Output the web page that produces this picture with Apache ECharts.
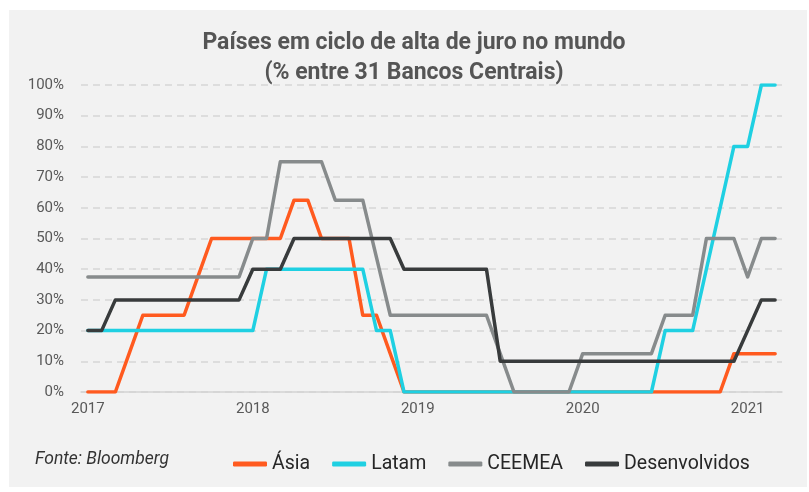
<!DOCTYPE html>
<html>
<head>
<meta charset="utf-8">
<script src="https://cdn.jsdelivr.net/npm/echarts@6/dist/echarts.min.js"></script>
<style>
    html, body { margin: 0; padding: 0; background: #fff; }
    #chart { width: 809px; height: 492px; }
</style>
</head>
<body>
<div id="chart"></div>
<script>
    // monthly, Jan 2017 .. Mar 2021 (51 months)
    var yearLabels = ['2017', '2018', '2019', '2020', '2021'];
    var yearTicks = [0, 12, 24, 36, 48];

    var asia = [0, 0, 0, 12.5, 25, 25, 25, 25, 37.5, 50, 50, 50, 50, 50, 50, 62.5, 62.5, 50, 50, 50,
        25, 25, 12.5, 0, 0, 0, 0, 0, 0, 0, 0, 0, 0, 0, 0, 0, 0, 0, 0, 0,
        0, 0, 0, 0, 0, 0, 0, 12.5, 12.5, 12.5, 12.5];
    var latam = [20, 20, 20, 20, 20, 20, 20, 20, 20, 20, 20, 20, 20, 40, 40, 40, 40, 40, 40, 40,
        40, 20, 20, 0, 0, 0, 0, 0, 0, 0, 0, 0, 0, 0, 0, 0, 0, 0, 0, 0,
        0, 0, 20, 20, 20, 40, 60, 80, 80, 100, 100];
    var ceemea = [37.5, 37.5, 37.5, 37.5, 37.5, 37.5, 37.5, 37.5, 37.5, 37.5, 37.5, 37.5, 50, 50, 75, 75, 75, 75, 62.5, 62.5,
        62.5, 43.75, 25, 25, 25, 25, 25, 25, 25, 25, 12.5, 0, 0, 0, 0, 0, 12.5, 12.5, 12.5, 12.5,
        12.5, 12.5, 25, 25, 25, 50, 50, 50, 37.5, 50, 50];
    var desenvolvidos = [20, 20, 30, 30, 30, 30, 30, 30, 30, 30, 30, 30, 40, 40, 40, 50, 50, 50, 50, 50,
        50, 50, 50, 40, 40, 40, 40, 40, 40, 40, 10, 10, 10, 10, 10, 10, 10, 10, 10, 10,
        10, 10, 10, 10, 10, 10, 10, 10, 20, 30, 30];

    var seriesNames = ['Ásia', 'Latam', 'CEEMEA', 'Desenvolvidos'];
    var seriesValues = [asia, latam, ceemea, desenvolvidos];
    var seriesColors = ['#ff5a1f', '#1fd0e2', '#878b8c', '#383b3c'];

    var font = 'Roboto, "DejaVu Sans", sans-serif';

    var chart = echarts.init(document.getElementById('chart'));
    chart.setOption({
        animation: false,
        textStyle: { fontFamily: font },
        graphic: [
            {
                type: 'rect', z: -10, silent: true,
                shape: { x: 9, y: 10, width: 798, height: 477 },
                style: { fill: '#f2f2f2' }
            },
            {
                type: 'text', left: 35, top: 451,
                style: { text: 'Fonte: Bloomberg', fontFamily: font, fontStyle: 'italic', fontSize: 17.5, fill: '#333' }
            }
        ],
        title: {
            text: 'Países em ciclo de alta de juro no mundo\n(% entre 31 Bancos Centrais)',
            left: 409, top: 23, textAlign: 'center',
            textStyle: { fontFamily: font, fontSize: 23, fontWeight: 'bold', color: '#555', lineHeight: 30 }
        },
        legend: {
            left: 228, top: 449,
            itemGap: 22, itemWidth: 34, itemHeight: 5,
            icon: 'roundRect',
            data: seriesNames,
            textStyle: { fontFamily: font, fontSize: 19.5, color: '#262626' }
        },
        grid: { left: 81, right: 27, top: 85, bottom: 100 },
        xAxis: {
            type: 'value', min: -0.5, max: 50.5,
            axisLine: { show: true, lineStyle: { color: '#d4d4d4', width: 1.5 } },
            axisTick: { show: false },
            splitLine: { show: false },
            axisLabel: {
                customValues: yearTicks,
                formatter: function (v) { return yearLabels[Math.round(v / 12)]; },
                color: '#595959', fontSize: 15, margin: 10
            }
        },
        yAxis: {
            type: 'value', min: 0, max: 100, interval: 10,
            axisLine: { show: false },
            axisTick: { show: false },
            axisLabel: { formatter: '{value}%', color: '#595959', fontSize: 15, margin: 17 },
            splitLine: { lineStyle: { color: '#d6d6d6', width: 1.5, type: [7, 5] } }
        },
        series: seriesNames.map(function (name, k) {
            return {
                name: name,
                type: 'line',
                symbol: 'none',
                color: seriesColors[k],
                lineStyle: { width: 3.5, cap: 'round', join: 'round' },
                data: seriesValues[k].map(function (v, i) { return [i, v]; })
            };
        })
    });
</script>
</body>
</html>
